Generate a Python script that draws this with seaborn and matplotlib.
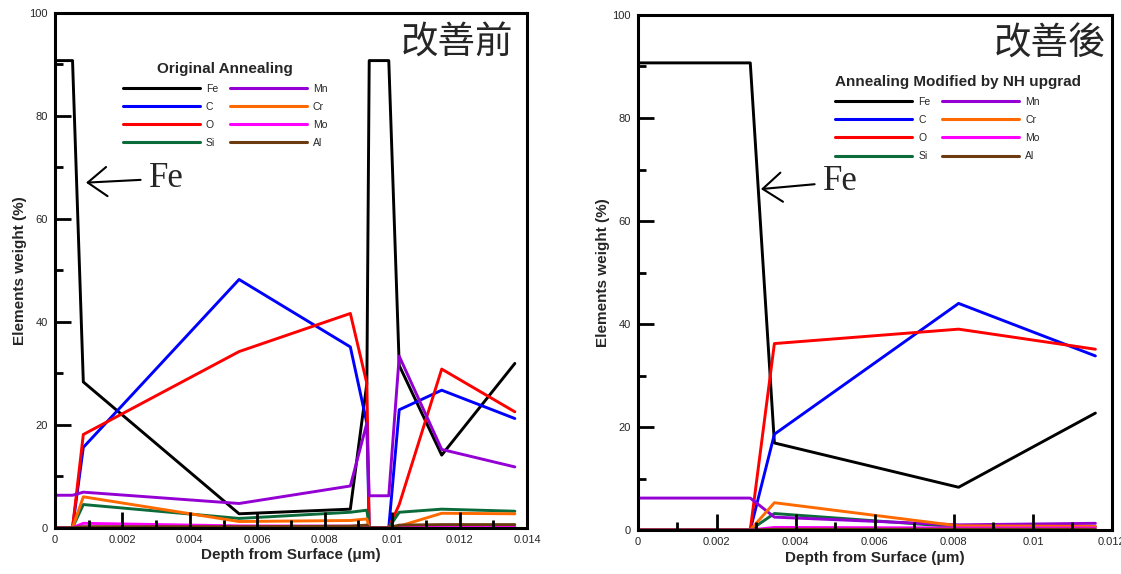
import matplotlib
matplotlib.use("Agg")
import matplotlib.pyplot as plt
from matplotlib.ticker import MultipleLocator, FuncFormatter
from matplotlib.lines import Line2D
import pandas as pd
import seaborn as sns

# Elements and their line colours
elements = ["Fe", "C", "O", "Si", "Mn", "Cr", "Mo", "Al"]
colors = ["#000000", "#0000FF", "#FF0000", "#0B6B3A", "#9400D3", "#FF6A00", "#FF00FF", "#6B3A0E"]

# Original annealing: depth profile (um) and weight % per element
depth_before = [0, 0.00052, 0.00084, 0.00546, 0.00876, 0.00925, 0.00932, 0.0099, 0.01021, 0.01147, 0.01364]
fe_before = [90.7, 90.7, 28.3, 2.7, 3.6, 28.0, 90.7, 90.7, 31.5, 14.1, 31.9]
c_before = [0, 0, 15.6, 48.2, 35.1, 20.3, 0, 0, 22.9, 26.7, 21.2]
o_before = [0, 0, 18.1, 34.2, 41.6, 28.0, 0, 0, 4.5, 30.8, 22.5]
si_before = [0, 0, 4.5, 1.8, 3.0, 3.4, 0, 0, 3.0, 3.6, 3.2]
mn_before = [6.3, 6.3, 6.9, 4.7, 8.1, 20.3, 6.2, 6.2, 33.3, 15.2, 11.8]
cr_before = [0, 0, 6.0, 1.2, 1.4, 1.7, 0, 0, 0.3, 2.8, 2.7]
mo_before = [0, 0, 0.85, 0.35, 0.3, 0.3, 0, 0, 0.15, 0.15, 0.15]
al_before = [0, 0, 0.2, 0.2, 0.3, 0.5, 0, 0, 0.5, 0.6, 0.6]

# Annealing modified by NH upgrade
depth_after = [0, 0.00285, 0.00346, 0.00812, 0.01158]
fe_after = [90.7, 90.7, 16.9, 8.3, 22.7]
c_after = [0, 0, 18.6, 44.0, 33.8]
o_after = [0, 0, 36.2, 39.0, 35.1]
si_after = [0, 0, 3.2, 0.6, 0.7]
mn_after = [6.2, 6.2, 2.5, 1.0, 1.3]
cr_after = [0, 0, 5.3, 0.8, 0.7]
mo_after = [0, 0, 0.5, 0.4, 0.4]
al_after = [0, 0, 0.15, 0.15, 0.15]


def long_table(depth, series):
    rows = []
    for name, vals in zip(elements, series):
        for d, v in zip(depth, vals):
            rows.append({"depth": d, "element": name, "weight": v})
    return pd.DataFrame(rows)


df_before = long_table(depth_before, [fe_before, c_before, o_before, si_before,
                                      mn_before, cr_before, mo_before, al_before])
df_after = long_table(depth_after, [fe_after, c_after, o_after, si_after,
                                    mn_after, cr_after, mo_after, al_after])

sns.set_style("white")
plt.rcParams["font.family"] = ["Liberation Sans", "DejaVu Sans"]

W, H = 1121, 574
fig = plt.figure(figsize=(W / 100, H / 100), dpi=100)
ax1 = fig.add_axes([55 / W, 1 - 527.7 / H, 472 / W, 515 / H])
ax2 = fig.add_axes([637.6 / W, 1 - 530 / H, 474.4 / W, 515 / H])

palette = dict(zip(elements, colors))
fmt = FuncFormatter(lambda v, p: "%g" % round(v, 6))


def draw_panel(ax, df, xmax, legend_title, legend_xy, align, tag, fe_tip, fe_text, ylab_x):
    sns.lineplot(data=df, x="depth", y="weight", hue="element", hue_order=elements,
                 palette=palette, estimator=None, sort=False, lw=2.1, legend=False, ax=ax)
    ax.set_xlim(0, xmax)
    ax.set_ylim(0, 100)
    ax.xaxis.set_major_locator(MultipleLocator(0.002))
    ax.xaxis.set_minor_locator(MultipleLocator(0.001))
    ax.yaxis.set_major_locator(MultipleLocator(20))
    ax.yaxis.set_minor_locator(MultipleLocator(10))
    ax.xaxis.set_major_formatter(fmt)
    ax.set_axisbelow(False)
    ax.tick_params(which="both", direction="in", top=False, right=False,
                   bottom=True, left=True,
                   width=2.0, color="black", labelsize=8, pad=5)
    ax.tick_params(which="major", length=11.5)
    ax.tick_params(which="minor", length=5.5)
    for s in ax.spines.values():
        s.set_linewidth(2.2)
        s.set_color("black")
    ax.set_xlabel("Depth from Surface (\u03bcm)", fontsize=11, fontweight="bold")
    ax.set_ylabel("Elements weight (%)", fontsize=11, fontweight="bold")
    ax.yaxis.set_label_coords(ylab_x, 0.5)
    ax.xaxis.set_label_coords(0.5, -0.040)

    handles = [Line2D([], [], color=c, lw=2.2) for c in colors]
    ax.legend(handles, elements, ncol=2, title=legend_title,
              title_fontproperties={"weight": "bold", "size": 11},
              fontsize=7.5, frameon=False, handlelength=7.35, handletextpad=0.6,
              columnspacing=1.16, labelspacing=0.78, borderpad=0, borderaxespad=0,
              loc="upper left", bbox_to_anchor=legend_xy, alignment=align)

    ax.text(tag[1], tag[2], tag[0], transform=ax.transAxes, ha="right", va="center",
            fontsize=27, family=["Noto Sans CJK TC", "DejaVu Sans"])

    ax.annotate("Fe", xy=fe_tip, xytext=fe_text, ha="left", va="center",
                fontsize=25, family="Liberation Serif",
                arrowprops=dict(arrowstyle="->,head_length=0.55,head_width=0.42",
                                lw=1.5, color="black", shrinkA=4, shrinkB=0))


draw_panel(ax1, df_before, 0.014, "Original Annealing", (0.144, 0.905), "center",
           ("改善前", 0.970, 0.940), (0.00092, 67.0), (0.0028, 67.8), -0.060)
draw_panel(ax2, df_after, 0.012, "Annealing Modified by NH upgrad", (0.4167, 0.884), "left",
           ("改善後", 0.987, 0.944), (0.00312, 66.2), (0.0047, 67.6), -0.058)

fig.savefig("out.png", dpi=100)
